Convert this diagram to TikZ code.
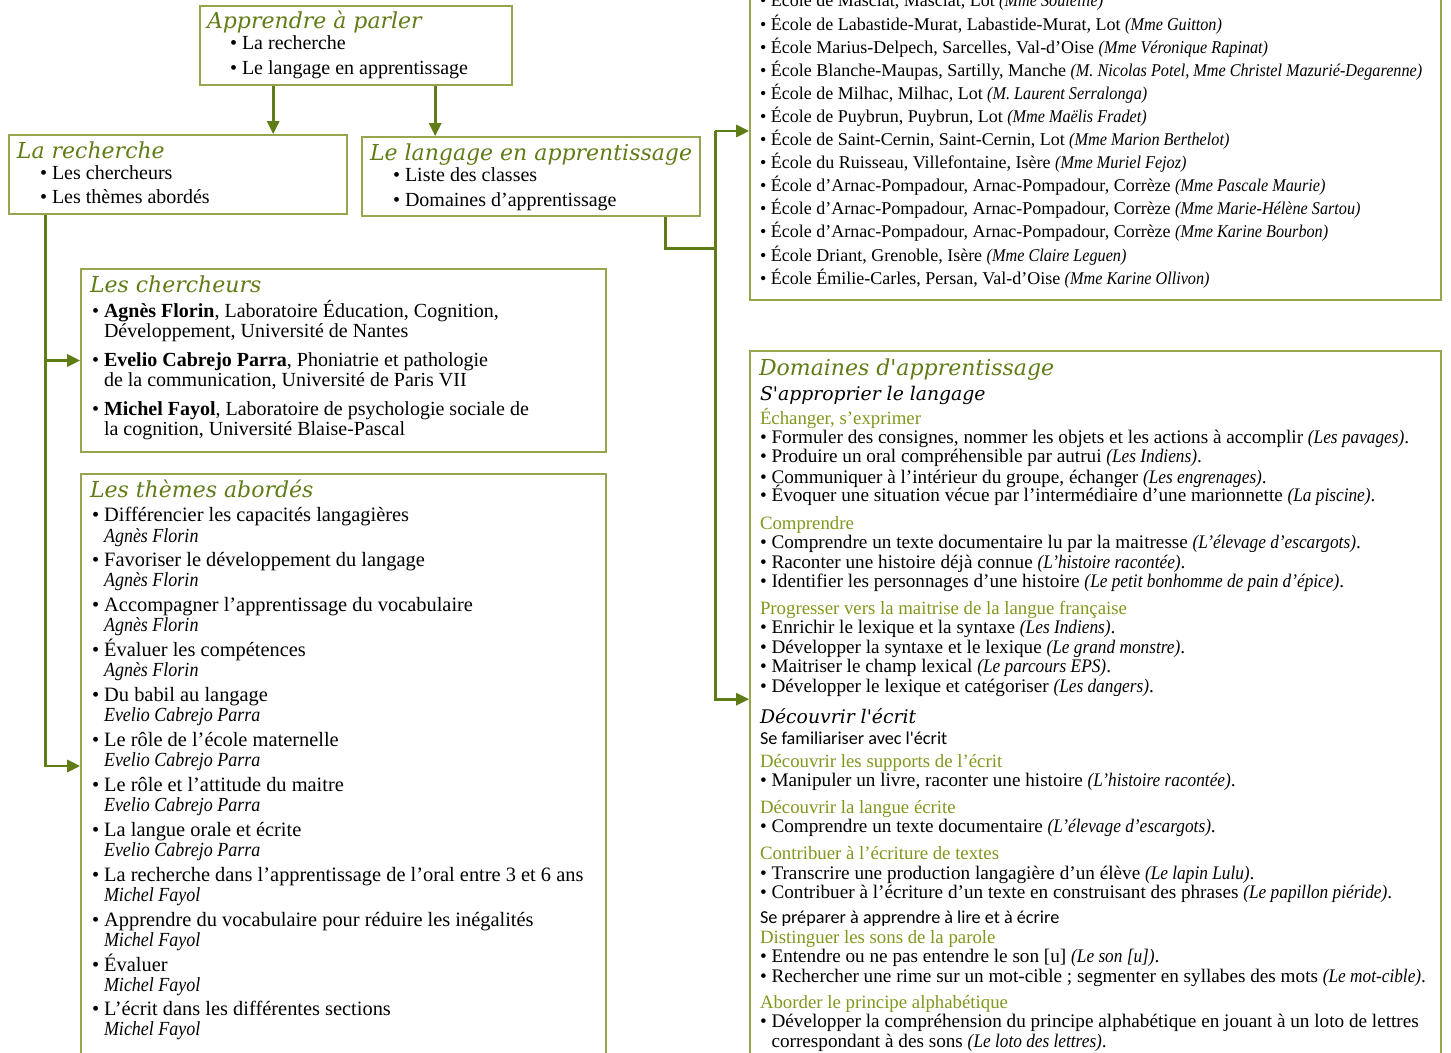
\documentclass[tikz,border=0pt]{standalone}
\usepackage{fontspec}
\setmainfont{Liberation Serif}[ItalicFeatures={FakeStretch=0.9}]
\newfontfamily\headfont{DejaVu Serif}
\newfontfamily\notefont{Carlito}
\usetikzlibrary{arrows.meta,fit}

\definecolor{leaf}{RGB}{96,124,22}
\definecolor{sprout}{RGB}{128,152,30}
\definecolor{rim}{RGB}{150,166,78}

\tikzset{
  panel/.style={draw=rim, line width=0.8pt, inner sep=0pt},
  link/.style={leaf, line width=1.4pt, -{Triangle[length=6.5pt,width=6pt]}},
  trunk/.style={leaf, line width=1.4pt},
  row/.style={anchor=base west, inner sep=0pt, outer sep=0pt},
  boxtitle/.style={row, font=\headfont\itshape\fontsize{11}{13}\selectfont, text=leaf},
  txt/.style={row, font=\fontsize{10}{12}\selectfont},
  entry/.style={row, font=\fontsize{9}{11}\selectfont},
  dentry/.style={row, font=\fontsize{9.6}{11}\selectfont},
  dtopic/.style={row, font=\headfont\itshape\fontsize{9.4}{11}\selectfont},
  dsub/.style={row, font=\fontsize{9.4}{11}\selectfont, text=sprout},
  dnote/.style={row, font=\notefont\fontsize{9.1}{11}\selectfont}
}

\begin{document}
\begin{tikzpicture}[x=0.5pt, y=-0.5pt]

    \useasboundingbox (0,0) rectangle (1451,1053);

    % the boxes
    \node[panel, fit={(200,6) (512,85)}] (parler) {};
    \node[panel, fit={(9,135) (347,214)}] (recherche) {};
    \node[panel, fit={(362,137) (700,216)}] (langage) {};
    \node[panel, fit={(750,-38) (1441,300)}] (classes) {};
    \node[panel, fit={(81,269) (606,452)}] (chercheurs) {};
    \node[panel, fit={(81,474) (606,1058)}] (themes) {};
    \node[panel, fit={(750,351) (1441,1080)}] (domaines) {};

    % top boxes
    \node[boxtitle] (parler-t) at (207,29) {Apprendre à parler};
    \node[txt] (parler-1) at (230,50) {\textbullet\ La recherche};
    \node[txt] (parler-2) at (230,75) {\textbullet\ Le langage en apprentissage};

    \node[boxtitle] (recherche-t) at (17,159) {La recherche};
    \node[txt] (recherche-1) at (40,180) {\textbullet\ Les chercheurs};
    \node[txt] (recherche-2) at (40,204) {\textbullet\ Les thèmes abordés};

    \node[boxtitle] (langage-t) at (370,161) {Le langage en apprentissage};
    \node[txt] (langage-1) at (393,182) {\textbullet\ Liste des classes};
    \node[txt] (langage-2) at (393,207) {\textbullet\ Domaines d'apprentissage};

    % list of the classes
    \foreach \t [count=\i from 0] in {
        {École de Masciat, Masciat, Lot \textit{(Mme Soulellie)}},
        {École de Labastide-Murat, Labastide-Murat, Lot \textit{(Mme Guitton)}},
        {École Marius-Delpech, Sarcelles, Val-d'Oise \textit{(Mme Véronique Rapinat)}},
        {École Blanche-Maupas, Sartilly, Manche \textit{(M. Nicolas Potel, Mme Christel Mazurié-Degarenne)}},
        {École de Milhac, Milhac, Lot \textit{(M. Laurent Serralonga)}},
        {École de Puybrun, Puybrun, Lot \textit{(Mme Maëlis Fradet)}},
        {École de Saint-Cernin, Saint-Cernin, Lot \textit{(Mme Marion Berthelot)}},
        {École du Ruisseau, Villefontaine, Isère \textit{(Mme Muriel Fejoz)}},
        {École d'Arnac-Pompadour, Arnac-Pompadour, Corrèze \textit{(Mme Pascale Maurie)}},
        {École d'Arnac-Pompadour, Arnac-Pompadour, Corrèze \textit{(Mme Marie-Hélène Sartou)}},
        {École d'Arnac-Pompadour, Arnac-Pompadour, Corrèze \textit{(Mme Karine Bourbon)}},
        {École Driant, Grenoble, Isère \textit{(Mme Claire Leguen)}},
        {École Émilie-Carles, Persan, Val-d'Oise \textit{(Mme Karine Ollivon)}}}
      \node[entry] (classe-\i) at (760,7+23.1*\i) {\textbullet\ \t};

    % researchers
    \node[boxtitle] (chercheurs-t) at (90,293) {Les chercheurs};
    \node[txt] (chercheurs-1) at (92,318) {\textbullet\ \textbf{Agnès Florin}, Laboratoire Éducation, Cognition,};
    \node[txt] (chercheurs-1b) at (92,338) {\hphantom{\textbullet\ }Développement, Université de Nantes};
    \node[txt] (chercheurs-2) at (92,367) {\textbullet\ \textbf{Evelio Cabrejo Parra}, Phoniatrie et pathologie};
    \node[txt] (chercheurs-2b) at (92,387) {\hphantom{\textbullet\ }de la communication, Université de Paris VII};
    \node[txt] (chercheurs-3) at (92,416) {\textbullet\ \textbf{Michel Fayol}, Laboratoire de psychologie sociale de};
    \node[txt] (chercheurs-3b) at (92,436) {\hphantom{\textbullet\ }la cognition, Université Blaise-Pascal};

    % themes
    \node[boxtitle] (themes-t) at (90,497) {Les thèmes abordés};
    \foreach \t/\a [count=\i from 0] in {
        {Différencier les capacités langagières}/{Agnès Florin},
        {Favoriser le développement du langage}/{Agnès Florin},
        {Accompagner l'apprentissage du vocabulaire}/{Agnès Florin},
        {Évaluer les compétences}/{Agnès Florin},
        {Du babil au langage}/{Evelio Cabrejo Parra},
        {Le rôle de l'école maternelle}/{Evelio Cabrejo Parra},
        {Le rôle et l'attitude du maitre}/{Evelio Cabrejo Parra},
        {La langue orale et écrite}/{Evelio Cabrejo Parra},
        {La recherche dans l'apprentissage de l'oral entre 3 et 6 ans}/{Michel Fayol},
        {Apprendre du vocabulaire pour réduire les inégalités}/{Michel Fayol},
        {Évaluer}/{Michel Fayol},
        {L'écrit dans les différentes sections}/{Michel Fayol}} {
      \node[txt, font=\fontsize{10.2}{12}\selectfont] (theme-\i) at (92,522+44.9*\i) {\textbullet\ \t};
      \node[txt] (auteur-\i) at (92,542+44.9*\i) {\hphantom{\textbullet\ }\textit{\a}};
    }

    % learning domains
    \node[boxtitle] (domaines-t) at (759,376) {Domaines d'apprentissage};
    \foreach \s/\y/\t [count=\i] in {
        dtopic/401/{S'approprier le langage},
        dsub/425/{Échanger, s'exprimer},
        dentry/444/{\textbullet\ Formuler des consignes, nommer les objets et les actions à accomplir \textit{(Les pavages)}.},
        dentry/463/{\textbullet\ Produire un oral compréhensible par autrui \textit{(Les Indiens)}.},
        dentry/483/{\textbullet\ Communiquer à l'intérieur du groupe, échanger \textit{(Les engrenages)}.},
        dentry/502/{\textbullet\ Évoquer une situation vécue par l'intermédiaire d'une marionnette \textit{(La piscine)}.},
        dsub/529/{Comprendre},
        dentry/548/{\textbullet\ Comprendre un texte documentaire lu par la maitresse \textit{(L'élevage d'escargots)}.},
        dentry/568/{\textbullet\ Raconter une histoire déjà connue \textit{(L'histoire racontée)}.},
        dentry/587/{\textbullet\ Identifier les personnages d'une histoire \textit{(Le petit bonhomme de pain d'épice)}.},
        dsub/614/{Progresser vers la maitrise de la langue française},
        dentry/633/{\textbullet\ Enrichir le lexique et la syntaxe \textit{(Les Indiens)}.},
        dentry/653/{\textbullet\ Développer la syntaxe et le lexique \textit{(Le grand monstre)}.},
        dentry/672/{\textbullet\ Maitriser le champ lexical \textit{(Le parcours EPS)}.},
        dentry/692/{\textbullet\ Développer le lexique et catégoriser \textit{(Les dangers)}.},
        dtopic/723/{Découvrir l'écrit},
        dnote/744/{Se familiariser avec l'écrit},
        dsub/767/{Découvrir les supports de l'écrit},
        dentry/786/{\textbullet\ Manipuler un livre, raconter une histoire \textit{(L'histoire racontée)}.},
        dsub/813/{Découvrir la langue écrite},
        dentry/832/{\textbullet\ Comprendre un texte documentaire \textit{(L'élevage d'escargots)}.},
        dsub/859/{Contribuer à l'écriture de textes},
        dentry/879/{\textbullet\ Transcrire une production langagière d'un élève \textit{(Le lapin Lulu)}.},
        dentry/898/{\textbullet\ Contribuer à l'écriture d'un texte en construisant des phrases \textit{(Le papillon piéride)}.},
        dnote/923/{Se préparer à apprendre à lire et à écrire},
        dsub/943/{Distinguer les sons de la parole},
        dentry/962/{\textbullet\ Entendre ou ne pas entendre le son [u] \textit{(Le son [u])}.},
        dentry/982/{\textbullet\ Rechercher une rime sur un mot-cible ; segmenter en syllabes des mots \textit{(Le mot-cible)}.},
        dsub/1008/{Aborder le principe alphabétique},
        dentry/1027/{\textbullet\ Développer la compréhension du principe alphabétique en jouant à un loto de lettres},
        dentry/1047/{\hphantom{\textbullet\ }correspondant à des sons \textit{(Le loto des lettres)}.}}
      \node[\s] (domaine-\i) at (760,\y) {\t};

    % connectors
    \coordinate (p1) at ([xshift=37pt]parler.south west);
    \coordinate (p2) at ([xshift=118pt]parler.south west);
    \draw[link] (p1) -- (p1 |- recherche.north);
    \draw[link] (p2) -- (p2 |- langage.north);

    \coordinate (r1) at ([xshift=18.5pt]recherche.south west);
    \draw[link] (r1) |- (themes.west);
    \draw[link] (r1 |- chercheurs.west) -- (chercheurs.west);

    \coordinate (l1) at ([xshift=-17.5pt]langage.south east);
    \coordinate (k1) at ([xshift=-17pt]classes.west);
    \coordinate (din) at ([yshift=-174.5pt]domaines.north west);
    \draw[trunk] (l1) -- ++(0,-16pt) -| (k1);
    \draw[link] (k1) -- (classes.west);
    \draw[link] (k1) |- (din);

\end{tikzpicture}
\end{document}
